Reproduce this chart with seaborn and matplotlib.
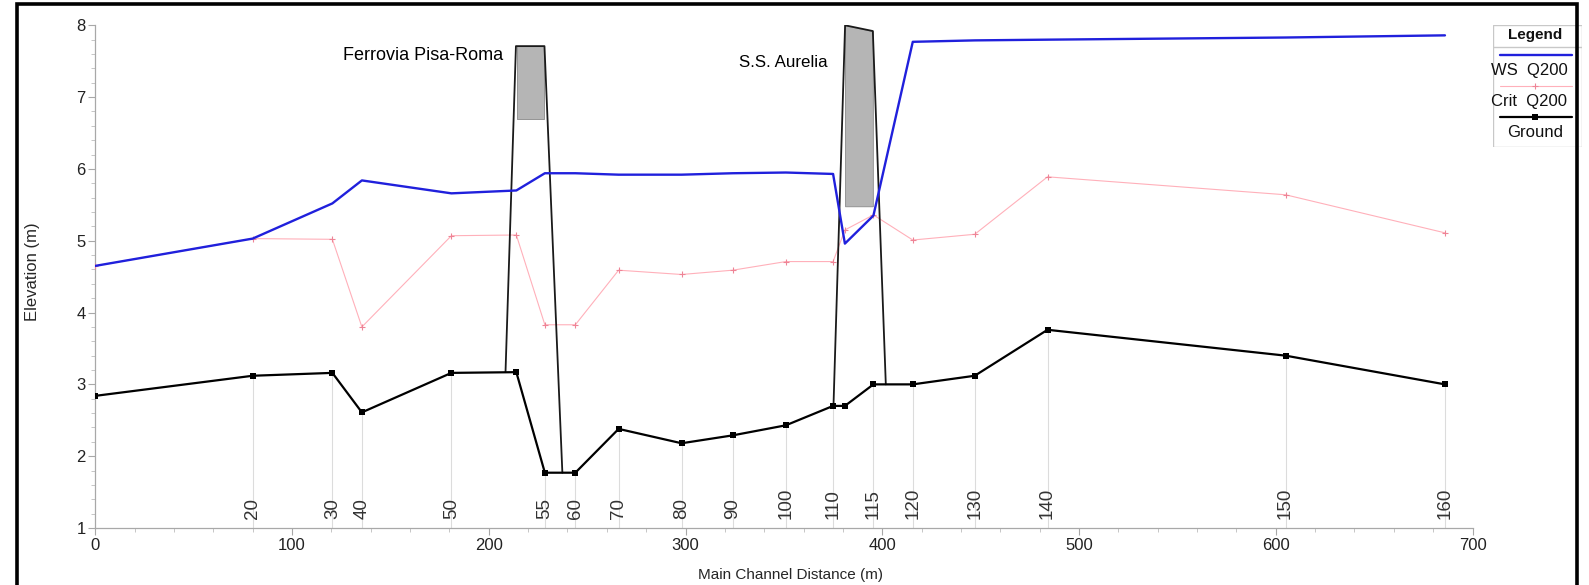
import numpy as np
import pandas as pd
import matplotlib
matplotlib.use("Agg")
import matplotlib.pyplot as plt
import matplotlib.patches as mpatches
from matplotlib.ticker import MultipleLocator
import seaborn as sns

# ---------------- data ----------------
distance = [0, 80, 120.5, 135.5, 181, 214, 228.5, 244, 266, 298, 324, 351,
            375, 381, 395.5, 415.5, 447, 484, 605, 686]
ws_q200 = [4.65, 5.03, 5.52, 5.84, 5.66, 5.70, 5.94, 5.94, 5.92, 5.92, 5.94, 5.95,
           5.93, 4.96, 5.35, 7.77, 7.79, 7.80, 7.83, 7.86]
crit_q200 = [4.65, 5.03, 5.02, 3.80, 5.07, 5.08, 3.83, 3.83, 4.59, 4.53, 4.59, 4.71,
             4.71, 5.15, 5.36, 5.01, 5.09, 5.89, 5.64, 5.11]
ground = [2.84, 3.12, 3.16, 2.61, 3.16, 3.17, 1.77, 1.77, 2.38, 2.18, 2.29, 2.43,
          2.70, 2.70, 3.00, 3.00, 3.12, 3.76, 3.40, 3.00]

station_labels = ["20", "30", "40", "50", "55", "60", "70", "80", "90", "100",
                  "110", "115", "120", "130", "140", "150", "160"]
station_dist = [80, 120.5, 135.5, 181, 228.5, 244, 266, 298, 324, 351,
                375, 395.5, 415.5, 447, 484, 605, 686]
station_ground = [3.12, 3.16, 2.61, 3.16, 1.77, 1.77, 2.38, 2.18, 2.29, 2.43,
                  2.70, 3.00, 3.00, 3.12, 3.76, 3.40, 3.00]

# bridge "Ferrovia Pisa-Roma"
fer_outline_d = [208.5, 213.8, 228.3, 237.4]
fer_outline_z = [3.17, 7.71, 7.71, 1.77]
fer_deck_d = [214.3, 228.3]
fer_deck_top = [7.71, 7.71]
fer_deck_bottom = [6.70, 6.70]

# bridge "S.S. Aurelia"
aur_outline_d = [375.2, 381.1, 395.2, 401.8]
aur_outline_z = [2.70, 8.00, 7.92, 3.00]
aur_deck_d = [381.1, 395.2]
aur_deck_top = [8.00, 7.92]
aur_deck_bottom = [5.48, 5.48]

annotations = ["Ferrovia Pisa-Roma", "S.S. Aurelia"]
annot_d = [166.6, 349.6]
annot_z = [7.58, 7.48]
annot_size = [13, 12.2]

# ---------------- style ----------------
sns.set_theme(style="white")
plt.rcParams['font.family'] = ['Liberation Sans', 'DejaVu Sans']

W, H = 1589, 585
fig = plt.figure(figsize=(W / 100, H / 100), dpi=100)
ax = fig.add_axes([95.3 / W, 57 / H, (1472.5 - 95.3) / W, (528 - 25.3) / H])

df = pd.DataFrame({"dist": distance, "ws": ws_q200, "crit": crit_q200, "ground": ground})

WS_C = "#2020dc"
CRIT_C = "#ffb0ba"
CRIT_M = "#ee8496"

# station guide lines
for d, g in zip(station_dist, station_ground):
    ax.plot([d, d], [1, g], color="#dcdcdc", lw=0.8, zorder=1)

# bridge decks (grey fill)
ax.fill_between(fer_deck_d, fer_deck_bottom, fer_deck_top, color="#b5b5b5",
                edgecolor="#8a8a8a", lw=0.6, zorder=2)
ax.fill_between(aur_deck_d, aur_deck_bottom, aur_deck_top, color="#b5b5b5",
                edgecolor="#8a8a8a", lw=0.6, zorder=2)

# crit line
sns.lineplot(data=df, x="dist", y="crit", sort=False, ax=ax, color=CRIT_C,
             lw=0.8, marker="+", markersize=4, markeredgewidth=0.8,
             markeredgecolor=CRIT_M, zorder=3)
# ground
sns.lineplot(data=df, x="dist", y="ground", sort=False, ax=ax, color="black",
             lw=1.6, marker="s", markersize=5, markeredgewidth=0, zorder=5)
# bridge outlines
ax.plot(fer_outline_d, fer_outline_z, color="#1a1a1a", lw=1.3, zorder=4)
ax.plot(aur_outline_d, aur_outline_z, color="#1a1a1a", lw=1.3, zorder=4)
# WS
sns.lineplot(data=df, x="dist", y="ws", sort=False, ax=ax, color=WS_C,
             lw=1.7, zorder=6)

# station labels
for lab, d in zip(station_labels, station_dist):
    ax.text(d, 1.12, lab, rotation=90, ha="center", va="bottom",
            fontsize=13.5, color="#333333", zorder=7)

# bridge annotations
for t, d, z, fs in zip(annotations, annot_d, annot_z, annot_size):
    ax.text(d, z, t, ha="center", va="center", fontsize=fs, color="black")

ax.set_xlim(0, 700)
ax.set_ylim(1, 8)
ax.xaxis.set_major_locator(MultipleLocator(100))
ax.xaxis.set_minor_locator(MultipleLocator(20))
ax.yaxis.set_major_locator(MultipleLocator(1))
ax.yaxis.set_minor_locator(MultipleLocator(0.2))
ax.set_xlabel("Main Channel Distance (m)", fontsize=11)
ax.set_ylabel("Elevation (m)", fontsize=12)
ax.xaxis.set_label_coords(0.505, -0.0805)
ax.yaxis.set_label_coords(-0.0405, 0.51)
for s in ["top", "right"]:
    ax.spines[s].set_visible(False)
for s in ["left", "bottom"]:
    ax.spines[s].set_color("#a8a8a8")
    ax.spines[s].set_linewidth(0.9)
ax.tick_params(which="major", direction="out", length=5, width=0.8,
               color="#a8a8a8", labelsize=12, labelcolor="#222222", pad=2,
               bottom=True, left=True)
ax.tick_params(which="minor", direction="out", length=3, width=0.6,
               color="#bdbdbd", bottom=True, left=True)
ax.set_facecolor("white")

# ---------------- legend panel ----------------
lx0, lx1, ly0, ly1 = 1492.7, 1582, 25, 147
lax = fig.add_axes([lx0 / W, 1 - ly1 / H, (lx1 - lx0) / W, (ly1 - ly0) / H])
lax.set_xlim(0, 1)
lax.set_ylim(0, 1)
lax.axis("off")
lax.add_patch(mpatches.Rectangle((0, 0), 1, 1, transform=lax.transAxes,
                                 fill=False, edgecolor="#c8c8c8", lw=1.0))
lax.plot([0, 1], [0.822, 0.822], color="#c8c8c8", lw=1.0)
lax.text(0.473, 0.918, "Legend", ha="center", va="center", fontsize=11,
         fontweight="bold", color="#111111")
lax.plot([0.084, 0.885], [0.754, 0.754], color=WS_C, lw=1.7)
lax.text(-0.02, 0.631, "WS  Q200", ha="left", va="center", fontsize=12, color="#111111")
lax.plot([0.084, 0.885], [0.5, 0.5], color=CRIT_C, lw=0.8)
lax.plot([0.47], [0.5], marker="+", color=CRIT_M, markersize=4, mew=0.8)
lax.text(-0.02, 0.377, "Crit  Q200", ha="left", va="center", fontsize=12, color="#111111")
lax.plot([0.084, 0.885], [0.248, 0.248], color="black", lw=1.6)
lax.plot([0.47], [0.248], marker="s", color="black", markersize=5, mew=0)
lax.text(0.473, 0.12, "Ground", ha="center", va="center", fontsize=12, color="#111111")

# outer frame
fig.add_artist(mpatches.Rectangle((17 / W, -0.05), (1577 - 17) / W, 1 - 4 / H + 0.05,
                                  transform=fig.transFigure, fill=False,
                                  edgecolor="black", lw=2.6, zorder=20))

fig.savefig("out.png", dpi=100, facecolor="white")
